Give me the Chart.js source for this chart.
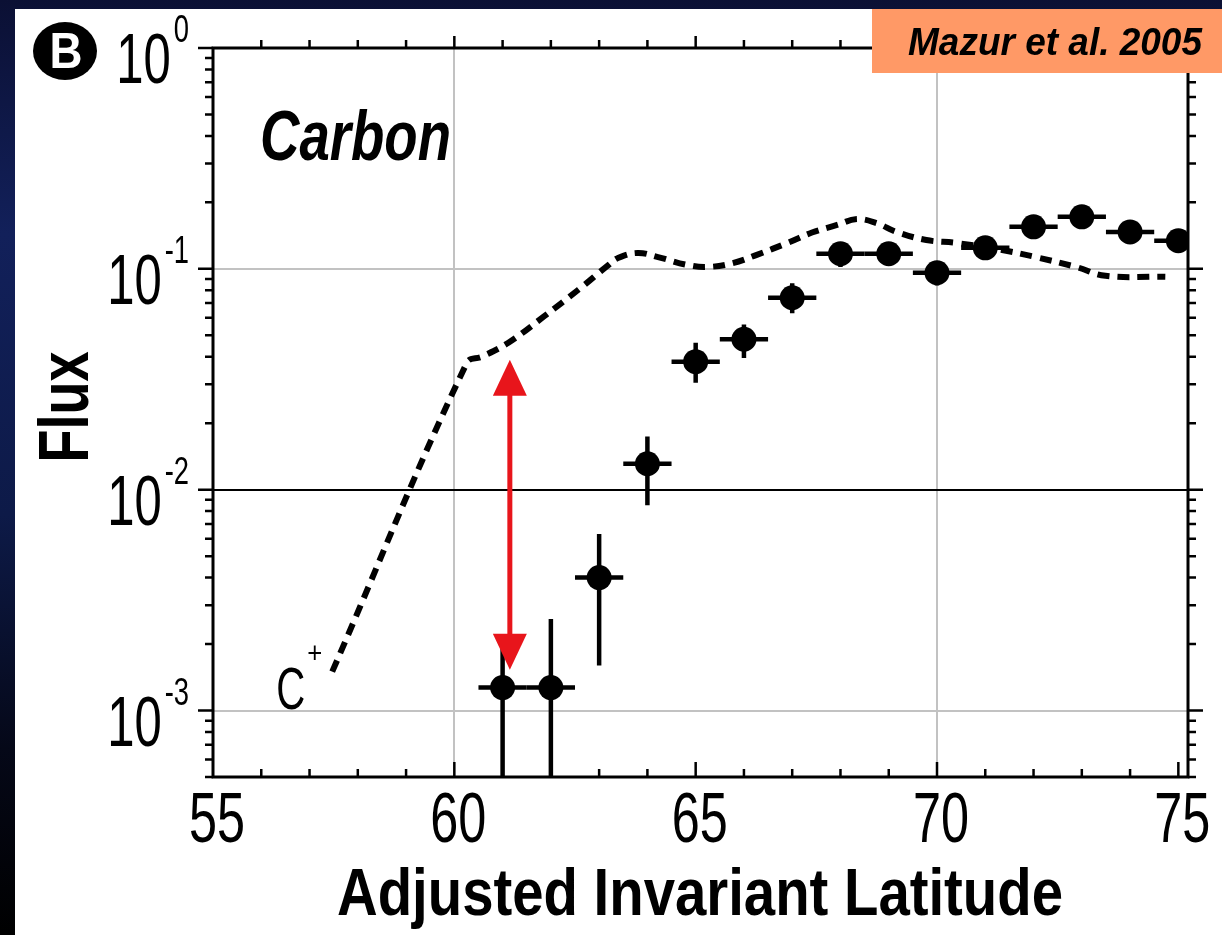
<!DOCTYPE html>
<html>
<head>
<meta charset="utf-8">
<script src="https://cdn.jsdelivr.net/npm/chart.js@4.4.1/dist/chart.umd.min.js"></script>
<style>
  html, body { margin: 0; padding: 0; }
  body {
    width: 1222px; height: 935px; overflow: hidden; position: relative;
    background: linear-gradient(to bottom, #0b1034 0%, #12205a 25%, #0d1a48 55%, #050818 80%, #000 100%);
  }
  #panel { position: absolute; left: 15px; top: 9px; right: 0; bottom: 0; background: #fff; }
  #chart { position: absolute; left: 0; top: 0; }
</style>
</head>
<body>
<div id="panel"></div>
<canvas id="chart" width="1222" height="935"></canvas>
<script>
// measured Carbon flux vs latitude
const latitude = [61, 62, 63, 64, 65, 66, 67, 68, 69, 70, 71, 72, 73, 74, 75];
const flux     = [0.00127, 0.00127, 0.0040, 0.0131, 0.038, 0.048, 0.074, 0.117, 0.117, 0.096, 0.1245, 0.155, 0.172, 0.147, 0.134];
const fluxLow  = [0.0003, 0.0003, 0.0016, 0.0085, 0.0305, 0.0395, 0.063, 0.102, 0.103, 0.084, 0.110, 0.138, 0.153, 0.131, 0.119];
const fluxHigh = [0.00195, 0.0026, 0.0063, 0.0174, 0.0463, 0.056, 0.086, 0.132, 0.131, 0.108, 0.139, 0.172, 0.192, 0.163, 0.150];
const latHalfWidth = 0.5;

// C+ model curve (dashed)
const modelLatitude = [57.47, 60.26, 60.57, 61.12, 61.85, 62.57, 63.19, 63.39, 63.80, 64.22, 64.84, 65.25, 65.76, 66.28, 66.90, 67.41, 67.93, 68.34, 68.75, 69.16, 69.78, 70.40, 71.23, 72.05, 72.88, 73.49, 74.73];
const modelFlux     = [0.0015, 0.0376, 0.040, 0.0463, 0.0607, 0.0804, 0.104, 0.112, 0.118, 0.113, 0.104, 0.102, 0.106, 0.116, 0.131, 0.146, 0.158, 0.168, 0.161, 0.147, 0.135, 0.131, 0.123, 0.113, 0.102, 0.093, 0.092];

// red double arrow
const arrowLatitude = 61.15;
const arrowTop = 0.0388;
const arrowBottom = 0.00153;

const xTickLabels = [55, 60, 65, 70, 75];
const yDecades = [0, -1, -2, -3];

const FONT = '"Liberation Sans", Arial, Helvetica, sans-serif';

function drawScaled(ctx, text, x, y, font, sx, align) {
  ctx.save();
  ctx.font = font;
  ctx.translate(x, y);
  ctx.scale(sx, 1);
  ctx.textAlign = align;
  ctx.textBaseline = "alphabetic";
  ctx.fillText(text, 0, 0);
  ctx.restore();
}

function drawFit(ctx, text, x, y, font, width, align) {
  ctx.save();
  ctx.font = font;
  const sx = width / ctx.measureText(text).width;
  ctx.restore();
  drawScaled(ctx, text, x, y, font, sx, align);
}

function isDecade(v) {
  const l = Math.log10(v);
  return Math.abs(l - Math.round(l)) < 1e-6;
}

const errorBars = {
  id: "errorBars",
  beforeDatasetsDraw(chart) {
    const { ctx, chartArea, scales: { x, y } } = chart;
    ctx.save();
    ctx.beginPath();
    ctx.rect(chartArea.left, chartArea.top, chartArea.right - chartArea.left, chartArea.bottom - chartArea.top);
    ctx.clip();
    ctx.strokeStyle = "#000";
    ctx.lineWidth = 4.5;
    for (let i = 0; i < latitude.length; i++) {
      const px = x.getPixelForValue(latitude[i]);
      const py = y.getPixelForValue(flux[i]);
      ctx.beginPath();
      ctx.moveTo(x.getPixelForValue(latitude[i] - latHalfWidth), py);
      ctx.lineTo(x.getPixelForValue(latitude[i] + latHalfWidth), py);
      ctx.moveTo(px, y.getPixelForValue(fluxLow[i]));
      ctx.lineTo(px, y.getPixelForValue(fluxHigh[i]));
      ctx.stroke();
    }
    ctx.restore();
  },
  afterDatasetsDraw(chart) {
    const { ctx, scales: { x, y } } = chart;
    const ax = x.getPixelForValue(arrowLatitude);
    const yt = y.getPixelForValue(arrowTop);
    const yb = y.getPixelForValue(arrowBottom);
    const headLen = 36, headHalf = 17;
    ctx.save();
    ctx.strokeStyle = "#e8151b";
    ctx.fillStyle = "#e8151b";
    ctx.lineWidth = 5;
    ctx.beginPath();
    ctx.moveTo(ax, yt + headLen - 4);
    ctx.lineTo(ax, yb - headLen + 4);
    ctx.stroke();
    ctx.beginPath();
    ctx.moveTo(ax, yt);
    ctx.lineTo(ax - headHalf, yt + headLen);
    ctx.lineTo(ax + headHalf, yt + headLen);
    ctx.closePath();
    ctx.fill();
    ctx.beginPath();
    ctx.moveTo(ax, yb);
    ctx.lineTo(ax - headHalf, yb - headLen);
    ctx.lineTo(ax + headHalf, yb - headLen);
    ctx.closePath();
    ctx.fill();
    ctx.restore();
  },
  afterDraw(chart) {
    const { ctx, chartArea, scales: { x, y } } = chart;
    const { left, right, top, bottom } = chartArea;
    ctx.save();
    ctx.strokeStyle = "#000";
    ctx.fillStyle = "#000";

    // frame
    ctx.lineWidth = 3;
    ctx.strokeRect(left, top, right - left, bottom - top);

    // x ticks: top outward, bottom inward
    ctx.lineWidth = 2.5;
    ctx.beginPath();
    for (let v = 56; v <= 75; v++) {
      const px = x.getPixelForValue(v);
      const major = v % 5 === 0;
      ctx.moveTo(px, top);
      ctx.lineTo(px, top - (major ? 12 : 8));
      ctx.moveTo(px, bottom);
      ctx.lineTo(px, bottom - (major ? 15 : 8));
    }
    // y ticks: outward on both sides
    for (let e = -4; e <= 0; e++) {
      for (let m = 1; m <= 9; m++) {
        const v = m * Math.pow(10, e);
        if (v < y.min * 0.999 || v > y.max * 1.001) continue;
        const py = y.getPixelForValue(v);
        const len = m === 1 ? 15 : 8;
        ctx.moveTo(left, py);
        ctx.lineTo(left - len, py);
        ctx.moveTo(right, py);
        ctx.lineTo(right + len, py);
      }
    }
    ctx.stroke();

    // y tick labels 10^n
    for (const d of yDecades) {
      const py = y.getPixelForValue(Math.pow(10, d));
      const exp = String(d);
      ctx.save();
      ctx.font = "38px " + FONT;
      const ew = ctx.measureText(exp).width * 0.72;
      ctx.restore();
      drawScaled(ctx, exp, 189, py - 6, "38px " + FONT, 0.72, "right");
      drawScaled(ctx, "10", 189 - ew - 3, py + 35, "70px " + FONT, 0.7, "right");
    }

    // x tick labels
    for (const v of xTickLabels) {
      const px = x.getPixelForValue(v);
      drawScaled(ctx, String(v), px + 4, 842, "70px " + FONT, 0.72, "center");
    }

    // axis titles
    drawFit(ctx, "Adjusted Invariant Latitude", 700, 915, "bold 66px " + FONT, 726, "center");
    ctx.save();
    ctx.translate(88, 407);
    ctx.rotate(-Math.PI / 2);
    drawFit(ctx, "Flux", 0, 0, "bold 71px " + FONT, 111, "center");
    ctx.restore();

    // panel label
    drawFit(ctx, "Carbon", 260, 160, "italic bold 70px " + FONT, 191, "left");

    // C+ label at model start
    const cx = x.getPixelForValue(modelLatitude[0]);
    const cy = y.getPixelForValue(modelFlux[0]);
    drawFit(ctx, "C", cx - 56, cy + 37, "60px " + FONT, 29, "left");
    drawFit(ctx, "+", cx - 25, cy - 9, "30px " + FONT, 15, "left");

    // B badge
    ctx.beginPath();
    ctx.ellipse(65, 51, 32, 29, 0, 0, Math.PI * 2);
    ctx.fill();
    ctx.fillStyle = "#fff";
    drawFit(ctx, "B", 66, 68, "bold 50px " + FONT, 33, "center");

    // citation box
    ctx.fillStyle = "#ff9966";
    ctx.fillRect(872, 9, 350, 64);
    ctx.fillStyle = "#000";
    drawFit(ctx, "Mazur et al. 2005", 1202, 55, "italic bold 39px " + FONT, 294, "right");

    ctx.restore();
  }
};

new Chart(document.getElementById("chart"), {
  type: "scatter",
  data: {
    datasets: [
      {
        label: "C+ model",
        data: modelLatitude.map((v, i) => ({ x: v, y: modelFlux[i] })),
        showLine: true,
        borderColor: "#000",
        borderWidth: 6,
        borderDash: [12, 8],
        tension: 0.4,
        pointRadius: 0,
        clip: 0
      },
      {
        label: "Carbon",
        data: latitude.map((v, i) => ({ x: v, y: flux[i] })),
        backgroundColor: "#000",
        borderWidth: 0,
        pointRadius: 12.5,
        clip: 0
      }
    ]
  },
  options: {
    responsive: false,
    animation: false,
    devicePixelRatio: 1,
    layout: { padding: { left: 213, top: 48, right: 34, bottom: 158 } },
    plugins: { legend: { display: false }, tooltip: { enabled: false } },
    scales: {
      x: {
        type: "linear",
        min: 55,
        max: 75.2,
        ticks: { display: false, stepSize: 5, includeBounds: false },
        border: { display: false },
        grid: {
          drawTicks: false,
          lineWidth: 2,
          color: c => (c.tick && (c.tick.value === 60 || c.tick.value === 70)) ? "#c2c2c2" : "rgba(0,0,0,0)"
        }
      },
      y: {
        type: "logarithmic",
        min: 0.0005,
        max: 1,
        ticks: { display: false },
        border: { display: false },
        grid: {
          drawTicks: false,
          lineWidth: 2,
          color: c => {
            if (!c.tick) return "rgba(0,0,0,0)";
            const v = c.tick.value;
            if (!isDecade(v) || v >= 1) return "rgba(0,0,0,0)";
            return Math.abs(v - 0.01) < 1e-9 ? "#000" : "#c2c2c2";
          }
        }
      }
    }
  },
  plugins: [errorBars]
});
</script>
</body>
</html>
